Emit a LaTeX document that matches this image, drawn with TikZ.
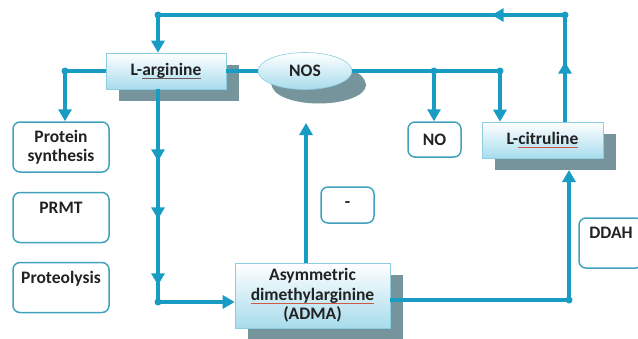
\documentclass[tikz,border=0pt]{standalone}
\usepackage{fontspec}
\setmainfont{Carlito}
\usetikzlibrary{arrows.meta,shadows,decorations.markings,shapes.geometric}

\definecolor{flowblue}{RGB}{24,156,196}
\definecolor{edgeblue}{RGB}{64,162,188}
\definecolor{paleblue}{RGB}{168,220,236}
\definecolor{rimblue}{RGB}{140,205,225}
\definecolor{shadegray}{RGB}{118,148,156}
\definecolor{inkgray}{RGB}{34,34,34}
\definecolor{spellred}{RGB}{205,90,70}
\definecolor{spelldark}{RGB}{110,90,90}

\newsavebox\spellbox
\newcommand\spellul[2][spellred]{\sbox\spellbox{#2}\rlap{\color{#1}\rule[-3pt]{\wd\spellbox}{0.8pt}}\usebox\spellbox}

\begin{document}
\begin{tikzpicture}[x=1pt, y=-1pt,
        flow/.style={flowblue, line width=3.6pt},
        arrowed/.style={-{Triangle[width=13pt,length=12pt]}},
        midtip/.style={postaction={decorate, decoration={markings,
            mark=at position #1 with {\arrow{Triangle[width=13pt,length=12pt]}}}}},
        litbox/.style={draw=rimblue, line width=0.6pt, top color=white, bottom color=paleblue,
            drop shadow={shadow xshift=13pt, shadow yshift=-12pt, fill=shadegray, opacity=1},
            text=inkgray, font=\fontsize{17.5}{19.5}\selectfont\bfseries, align=center,
            minimum width=120pt, minimum height=36pt, inner sep=2pt},
        tagbox/.style={draw=edgeblue, line width=1.5pt, rounded corners=7pt, fill=white,
            text=inkgray, font=\fontsize{17.5}{19.5}\selectfont\bfseries, align=center,
            minimum width=96pt, minimum height=50pt, inner sep=2pt},
        dot/.style={circle, fill=flowblue, inner sep=0pt, minimum size=7pt}]
        \useasboundingbox (0,0) rectangle (638,338);

        % main boxes
        \node[litbox] (arg) at (166,71) {L-\spellul[spelldark]{arginine}};
        \node[litbox, ellipse, minimum width=94pt, minimum height=37pt,
            drop shadow={shadow xshift=14pt, shadow yshift=-14pt, fill=shadegray, opacity=1}] (nos) at (305,71) {NOS};
        \node[litbox, minimum width=121pt] (cit) at (542.5,140) {L-\spellul{citruline}};
        \node[litbox, minimum width=155pt, minimum height=65pt] (adma) at (312.5,295.5)
            {Asymmetric\\\spellul{dimethylarginine}\\(ADMA)};

        % side boxes
        \node[tagbox] (prot) at (61,147) {Protein\\synthesis};
        \node[tagbox] (prmt) at (61,217.5) {PRMT\\\mbox{}};
        \node[tagbox] (prtl) at (61,287.5) {Proteolysis\\\mbox{}};
        \node[tagbox, minimum width=53pt, minimum height=35pt] (no) at (434.5,139.5) {NO};
        \node[tagbox, minimum width=53pt, minimum height=36pt] (minus) at (347.5,205) {-};
        \node[tagbox, minimum width=64pt] (ddah) at (611,243) {DDAH\\\mbox{}};

        % junctions
        \node[dot] (ptop) at (158,15) {};
        \node[dot] (pcorner) at (565,15) {};
        \node[dot] (pleft) at (65,71) {};
        \node[dot] (pno) at (434,71) {};
        \node[dot] (pcit) at (500,71) {};
        \node[dot] (pdown) at (158,302) {};
        \node[dot] (pright) at (569,300) {};
        \coordinate (nosin) at (306,123);
        \coordinate (citin) at (569,170);

        % connectors
        \draw[flow, midtip=60pt, midtip=180pt, arrowed] (cit.north -| pcorner) -- (pcorner.center) -- (ptop.center) -- (arg.north -| ptop);
        \draw[flow, arrowed] (arg.west) -- (pleft.center) -- (pleft |- prot.north);
        \draw[flow, midtip=72pt, midtip=130pt, midtip=196pt, arrowed] (arg.south -| pdown) -- (pdown.center) -- (pdown -| adma.west);
        \draw[flow] (arg.east) -- (nos.west);
        \draw[flow] (nos.east) -- (pcit.center);
        \draw[flow, arrowed] (pno.center) -- (pno |- no.north);
        \draw[flow, arrowed] (pcit.center) -- (pcit |- cit.north);
        \draw[flow, arrowed] (adma.north -| nosin) -- (nosin);
        \draw[flow, arrowed] (adma.east |- pright) -- (pright.center) -- (citin);
    \end{tikzpicture}
\end{document}
